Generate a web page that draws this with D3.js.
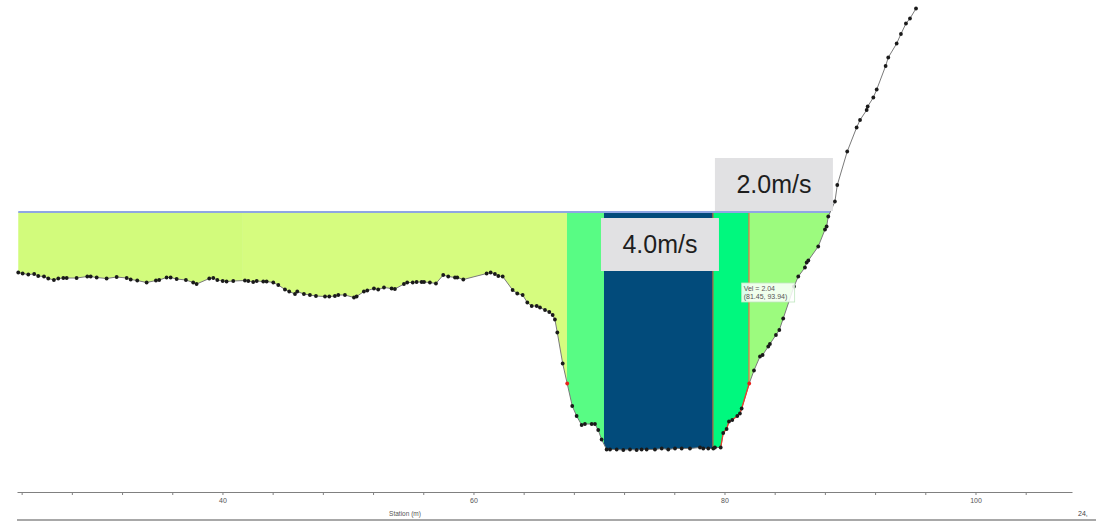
<!DOCTYPE html>
<html>

<head>
  <title>Cross section velocity</title>
  <script src="https://cdn.jsdelivr.net/npm/d3@7"></script>
  <style>
    body { margin: 0; background: #fff; }
    text { font-family: "Liberation Sans", Arial, sans-serif; }
  </style>
</head>

<body>
  <svg width="1116" height="523" id="mainsvg"></svg>
  <script>
    // ground profile (station m, elevation m)
    const station = [23.73, 24.08, 24.53, 25.00, 25.32, 25.78, 26.12, 26.57, 26.92, 27.32, 27.59, 28.38, 29.23, 29.50, 29.98,
      30.77, 31.57, 32.37, 32.69, 33.21, 33.96, 34.70, 34.96, 35.55, 35.87, 36.35, 37.09, 37.67, 37.94, 38.95, 39.27, 39.59,
      40.02, 40.33, 40.86, 41.79, 42.06, 42.45, 42.73, 43.25, 43.52, 44.05, 44.45, 44.98, 45.32, 45.78, 45.96, 46.49, 46.97,
      47.45, 48.17, 48.51, 48.96, 49.23, 49.76, 50.48, 50.69, 51.27, 51.54, 52.07, 52.41, 52.87, 53.48, 53.74, 54.46, 54.72,
      55.16, 55.47, 55.87, 56.06, 56.53, 57.01, 57.59, 57.99, 58.53, 58.71, 59.19, 61.05, 61.37, 61.71, 61.98, 62.33, 63.12,
      63.49, 63.92, 64.29, 64.64, 65.04, 65.30, 65.70, 66.04, 66.31, 66.49, 66.68, 67.11, 67.47, 67.87, 68.22, 68.62, 68.88,
      69.42, 69.68, 69.94, 70.21, 70.61, 70.88, 71.41, 71.94, 72.47, 73.00, 73.40, 73.80, 74.46, 75.00, 75.52, 76.06, 76.59,
      77.25, 78.05, 78.31, 78.71, 79.11, 79.24, 79.70, 79.90, 80.17, 80.36, 80.62, 81.02, 81.23, 81.37, 81.97, 82.35, 82.83,
      83.04, 83.49, 83.62, 84.10, 84.37, 84.68, 85.54, 85.88, 86.41, 86.55, 86.68, 87.47, 88.01, 88.14, 88.27, 88.80, 88.99,
      89.78, 90.53, 90.80, 91.33, 91.41, 91.86, 92.13, 92.84, 93.05, 93.72, 94.06, 94.46, 94.78, 95.26];
    const elevation = [94.19, 94.17, 94.15, 94.16, 94.12, 94.11, 94.07, 94.04, 94.07, 94.08, 94.08, 94.08, 94.11, 94.11, 94.09,
      94.07, 94.10, 94.08, 94.05, 94.03, 93.99, 94.03, 94.04, 94.09, 94.09, 94.06, 94.04, 93.99, 93.96, 94.07, 94.08, 94.04,
      94.02, 94.01, 94.02, 94.03, 94.02, 94.00, 94.02, 94.01, 94.01, 93.99, 93.94, 93.85, 93.81, 93.76, 93.81, 93.76, 93.74,
      93.72, 93.71, 93.71, 93.72, 93.74, 93.74, 93.69, 93.71, 93.81, 93.83, 93.87, 93.85, 93.89, 93.87, 93.86, 93.96, 93.99,
      93.99, 94.00, 94.00, 94.00, 93.99, 93.97, 94.14, 94.11, 94.09, 94.09, 94.05, 94.17, 94.19, 94.16, 94.12, 94.11, 93.84,
      93.77, 93.74, 93.59, 93.52, 93.52, 93.49, 93.44, 93.40, 93.34, 93.25, 92.99, 92.37, 91.97, 91.52, 91.32, 91.14, 91.16,
      91.16, 91.16, 91.04, 90.85, 90.65, 90.65, 90.65, 90.64, 90.65, 90.64, 90.65, 90.65, 90.65, 90.67, 90.65, 90.67, 90.67,
      90.67, 90.69, 90.67, 90.67, 90.67, 90.69, 90.69, 90.98, 91.06, 91.21, 91.24, 91.32, 91.37, 91.47, 91.97, 92.23, 92.51,
      92.54, 92.71, 92.76, 92.94, 93.04, 93.27, 93.91, 94.11, 94.29, 94.39, 94.43, 94.71, 95.05, 95.11, 95.31, 95.61, 95.94,
      96.61, 97.09, 97.24, 97.44, 97.51, 97.69, 97.85, 98.32, 98.49, 98.77, 98.96, 99.17, 99.27, 99.47];

    const wsElev = 95.40;

    // velocity bands: edges in station, mean velocity per band
    const bandEdges = [23.63, 41.63, 67.45, 70.40, 79.08, 81.95, 92.0];
    const bandVelocity = [0.29, 0.31, 1.52, 4.0, 2.04, 1.21];

    const bandLabels = ['4.0m/s', '2.0m/s'];
    const labelStation = [74.86, 83.94];

    const xTicks = d3.range(24, 108, 4);

    const svg = d3.select('#mainsvg');
    const width = +svg.attr('width');
    const height = +svg.attr('height');

    const x = d3.scaleLinear().domain([23.63, 107.69]).range([17, 1072]);
    const y = d3.scaleLinear().domain([89.80, 99.64]).range([492, 0]);

    const bandColor = d3.scaleOrdinal()
      .domain(bandVelocity)
      .range(['#d2fb7c', '#d6fc7f', '#58fc84', '#024b7b', '#00f87e', '#9cfb7e']);

    const ground = station.map((s, i) => [s, elevation[i]]);
    const groundAt = s => {
      const i = d3.bisector(d => d[0]).left(ground, s);
      const a = ground[i - 1], b = ground[i];
      return a[1] + (s - a[0]) / (b[0] - a[0]) * (b[1] - a[1]);
    };

    // wetted part of the section
    const wet = [];
    for (let i = 0; i < ground.length; i++) {
      if (ground[i][1] <= wsElev) wet.push(ground[i]);
      else if (i > 0 && ground[i - 1][1] <= wsElev) {
        const a = ground[i - 1], b = ground[i];
        const t = (wsElev - a[1]) / (b[1] - a[1]);
        wet.push([a[0] + t * (b[0] - a[0]), wsElev]);
        break;
      }
    }
    const wsEnd = wet[wet.length - 1][0];

    const wetArea = d3.area()
      .x(d => x(d[0]))
      .y0(y(wsElev))
      .y1(d => y(d[1]));

    svg.append('clipPath').attr('id', 'wetclip')
      .append('path').attr('d', wetArea(wet));

    const g = svg.append('g');

    g.append('g').attr('clip-path', 'url(#wetclip)')
      .selectAll('rect')
      .data(bandVelocity)
      .join('rect')
      .attr('x', (d, i) => x(bandEdges[i]))
      .attr('width', (d, i) => x(bandEdges[i + 1]) - x(bandEdges[i]))
      .attr('y', y(wsElev))
      .attr('height', y(89.80) - y(wsElev))
      .attr('fill', d => bandColor(d));

    // band divider lines
    g.selectAll('.divider')
      .data([bandEdges[4], bandEdges[5]])
      .join('line')
      .attr('class', 'divider')
      .attr('x1', d => x(d)).attr('x2', d => x(d))
      .attr('y1', y(wsElev)).attr('y2', d => y(groundAt(d)))
      .attr('stroke', (d, i) => i === 0 ? '#b0653c' : '#ea7040')
      .attr('stroke-width', 1.2);

    // water surface
    g.append('line')
      .attr('x1', x(ground[0][0])).attr('x2', x(wsEnd))
      .attr('y1', y(wsElev)).attr('y2', y(wsElev))
      .attr('stroke', '#8fa6e4')
      .attr('stroke-width', 2);

    // ground line and points
    const line = d3.line().x(d => x(d[0])).y(d => y(d[1]));
    g.append('path')
      .attr('d', line(ground))
      .attr('fill', 'none')
      .attr('stroke', '#7a7a7a')
      .attr('stroke-width', 1);

    g.append('path')
      .attr('d', line(ground.filter(d => d[0] >= 79.70 && d[0] <= 81.97)))
      .attr('fill', 'none')
      .attr('stroke', '#e4412c')
      .attr('stroke-width', 1.3);

    g.selectAll('.pt')
      .data(ground)
      .join('circle')
      .attr('class', 'pt')
      .attr('cx', d => x(d[0]))
      .attr('cy', d => y(d[1]))
      .attr('r', 1.9)
      .attr('fill', d => (d[0] === 67.47 || d[0] === 81.97) ? '#e8201c' : '#1a1a1a');

    // velocity labels
    const lab = g.selectAll('.lab')
      .data(bandLabels)
      .join('g')
      .attr('class', 'lab')
      .attr('transform', (d, i) => `translate(${x(labelStation[i])}, ${i === 0 ? y(wsElev) + 6 : y(wsElev) - 54})`);
    lab.append('rect')
      .attr('x', -59).attr('width', 118)
      .attr('height', 53)
      .attr('fill', '#e1e1e3');
    lab.append('text')
      .attr('text-anchor', 'middle')
      .attr('y', 35)
      .attr('font-size', 25)
      .attr('fill', '#1e1e1e')
      .text(d => d);

    // hover readout
    const tip = g.append('g')
      .attr('transform', `translate(${x(81.45) - 1}, ${y(93.94) - 2})`);
    tip.append('rect')
      .attr('width', 53).attr('height', 19)
      .attr('fill', '#ffffff').attr('fill-opacity', 0.85)
      .attr('stroke', '#bfe6bf').attr('stroke-width', 0.8);
    tip.append('text')
      .attr('x', 2).attr('y', 7.5)
      .attr('font-size', 7).attr('fill', '#555')
      .text('Vel = 2.04');
    tip.append('text')
      .attr('x', 2).attr('y', 15.5)
      .attr('font-size', 7).attr('fill', '#555')
      .text('(81.45, 93.94)');

    // axis
    const axis = svg.append('g')
      .attr('transform', `translate(0, 492)`)
      .call(d3.axisBottom(x)
        .tickValues(xTicks)
        .tickSize(3)
        .tickSizeOuter(0)
        .tickFormat(d => d % 20 === 0 ? d : ''));
    axis.select('.domain').attr('stroke', '#808080').attr('stroke-width', 1.2);
    axis.selectAll('.tick line').attr('stroke', '#808080');
    axis.selectAll('.tick text')
      .attr('font-size', 7).attr('fill', '#555')
      .attr('font-family', '"Liberation Sans", Arial, sans-serif');

    svg.append('text')
      .attr('x', 405).attr('y', 516)
      .attr('text-anchor', 'middle')
      .attr('font-size', 6.5).attr('fill', '#555')
      .text('Station (m)');

    svg.append('text')
      .attr('x', 1078).attr('y', 516)
      .attr('font-size', 7).attr('fill', '#444')
      .text('24,');

    svg.append('line')
      .attr('x1', 17).attr('x2', 1096)
      .attr('y1', 520).attr('y2', 520)
      .attr('stroke', '#a8a8a8').attr('stroke-width', 2);
  </script>
</body>

</html>
